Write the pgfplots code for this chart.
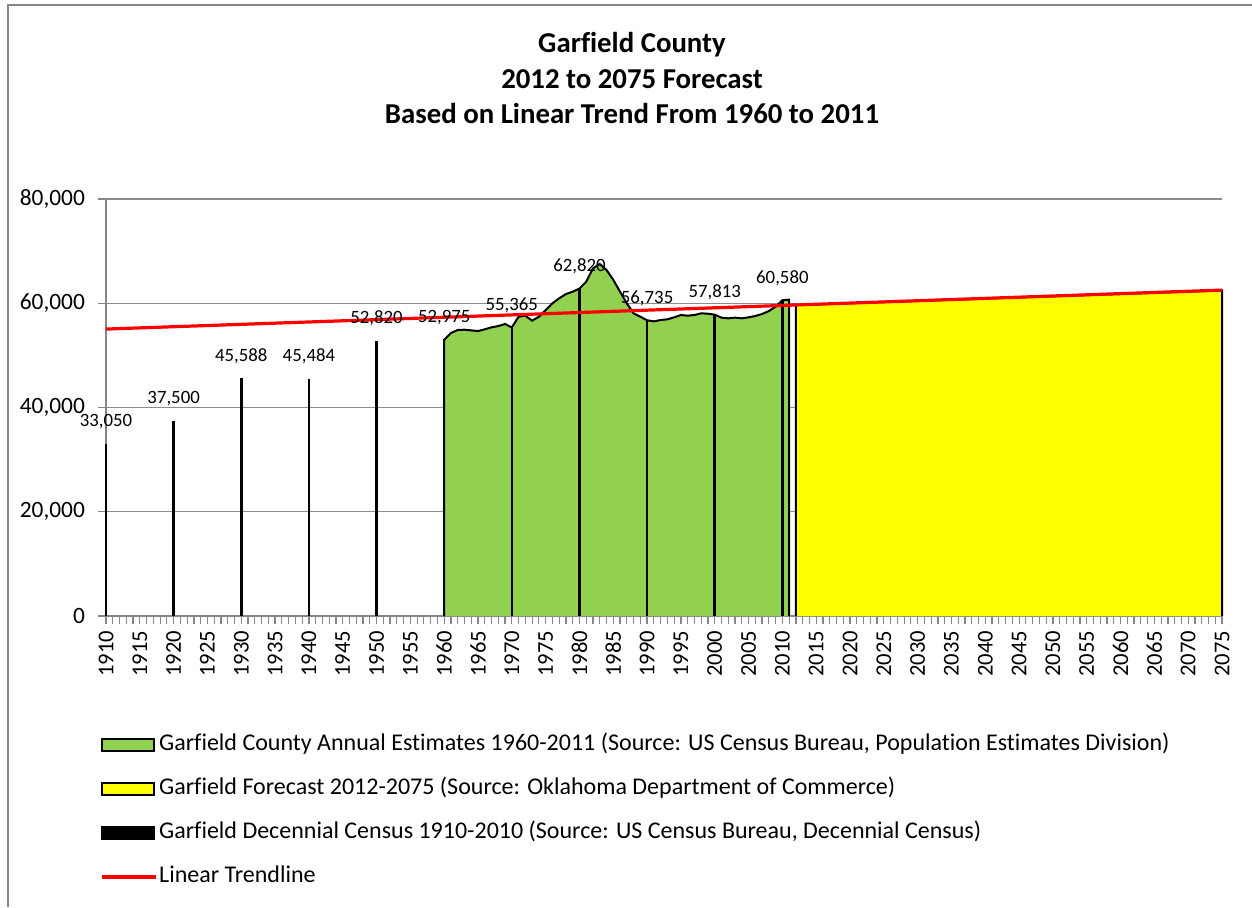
\documentclass[border=0pt]{standalone}
\usepackage{fontspec}
\setmainfont{Carlito}[Ligatures=NoCommon]
\usepackage{pgfplots}
\usepackage{pgfplotstable}
\pgfplotsset{compat=1.18}
\definecolor{xlgreen}{HTML}{92D050}
\definecolor{xlyellow}{HTML}{FFFF00}
\definecolor{xlgray}{HTML}{868686}
\definecolor{gridgray}{HTML}{8C8C8C}
\definecolor{xlred}{HTML}{FF0000}

\pgfplotstableread{
year pop
1960 0
1960 52975
1961 54300
1962 54870
1963 54930
1964 54800
1965 54670
1966 55000
1967 55380
1968 55630
1969 56020
1970 55365
1971 57420
1972 57620
1973 56660
1974 57420
1975 58700
1976 59990
1977 60950
1978 61770
1979 62220
1980 62820
1981 64140
1982 66700
1983 67530
1984 66380
1985 64500
1986 62220
1987 59990
1988 58070
1989 57420
1990 56735
1991 56530
1992 56790
1993 56920
1994 57300
1995 57750
1996 57620
1997 57750
1998 58070
1999 58000
2000 57813
2001 57240
2002 57110
2003 57240
2004 57110
2005 57300
2006 57560
2007 57940
2008 58510
2009 59340
2010 60580
2011 60700
2011 0
}\annual

\pgfplotstableread{
year pop
2012 0
2012 59650
2075 62450
2075 0
}\forecast

\pgfplotstableread{
year pop
1910 33050
1920 37500
1930 45588
1940 45484
1950 52820
1960 52975
1970 55365
1980 62820
1990 56735
2000 57813
2010 60580
}\census

\pgfplotstableread{
year pop
1910 55050
2075 62530
}\trend

\begin{document}
\begin{tikzpicture}
\useasboundingbox (0,0) rectangle (626pt,-453.5pt);
\draw[xlgray, line width=0.8pt] (4pt,-453.5pt) -- (4pt,-2.5pt) -- (626pt,-2.5pt);
\node[font=\fontsize{14.4}{17.6}\selectfont\bfseries, align=center] at (316pt,-39pt)
  {Garfield County\\2012 to 2075 Forecast\\Based on Linear Trend From 1960 to 2011};
\begin{axis}[
  at={(53pt,-308pt)}, anchor=south west,
  scale only axis, width=558pt, height=208.5pt,
  xmin=1910, xmax=2075, ymin=0, ymax=80000,
  axis lines*=left,
  axis line style={-, draw=xlgray, line width=0.8pt},
  ytick={0,20000,...,80000},
  ymajorgrids, grid style={gridgray, line width=0.6pt},
  scaled y ticks=false,
  xtick={1910,1915,...,2075}, minor x tick num=4,
  tick align=outside, major tick length=4pt, minor tick length=4pt,
  tick style={xlgray, line width=0.6pt},
  /pgf/number format/.cd, fixed, precision=0, 1000 sep={,}, assume math mode=true,
  /pgfplots/.cd,
  yticklabel style={font=\fontsize{11.7}{14}\selectfont, xshift=-3pt},
  xticklabel style={font=\fontsize{11.3}{13}\selectfont, rotate=90, anchor=east, /pgf/number format/1000 sep={}},
  legend style={at={(0,0)}, anchor=north west, xshift=-3pt, yshift=-58pt,
    draw=none, fill=none, inner sep=0pt, row sep=9.5pt,
    font=\fontsize{12}{14}\selectfont,
    nodes={inner xsep=0.8pt, inner ysep=1pt, text height=8pt, text depth=2.5pt}},
  legend cell align=left,
  clip=false,
]
% green annual estimates
\addplot[fill=xlgreen, draw=none,
  legend image code/.code={\draw[fill=xlgreen, draw=black, line width=0.9pt] (0pt,-3pt) rectangle (26pt,3pt);}]
  table[x=year,y=pop]{\annual};
\addlegendentry{Garfield County Annual Estimates 1960-2011 (Source: US Census Bureau, Population Estimates Division)}
\addplot[draw=black, line width=1pt, mark=none, forget plot] table[x=year,y=pop]{\annual};
% yellow forecast
\addplot[fill=xlyellow, draw=none,
  legend image code/.code={\draw[fill=xlyellow, draw=black, line width=0.9pt] (0pt,-3pt) rectangle (26pt,3pt);}]
  table[x=year,y=pop]{\forecast};
\addlegendentry{Garfield Forecast 2012-2075 (Source: Oklahoma Department of Commerce)}
\addplot[draw=black, line width=1pt, mark=none, forget plot] table[x=year,y=pop]{\forecast};
% decennial census
\addplot[ycomb, draw=black, line width=1.3pt, mark=none,
  legend image code/.code={\fill[black] (0pt,-3pt) rectangle (26pt,3pt);}]
  table[x=year,y=pop]{\census};
\addlegendentry{Garfield Decennial Census 1910-2010 (Source: US Census Bureau, Decennial Census)}
% trendline
\addplot[draw=xlred, line width=1.6pt, mark=none,
  legend image code/.code={\draw[xlred, line width=1.6pt] (0pt,0pt) -- (27pt,0pt);}]
  table[x=year,y=pop]{\trend};
\addlegendentry{Linear Trendline}
% data labels
\addplot[draw=none, mark=none, forget plot,
  nodes near coords,
  nodes near coords style={font=\fontsize{9.4}{11}\selectfont, anchor=base, yshift=8.5pt, text=black}]
  table[x=year,y=pop]{\census};
\end{axis}
\end{tikzpicture}
\end{document}
